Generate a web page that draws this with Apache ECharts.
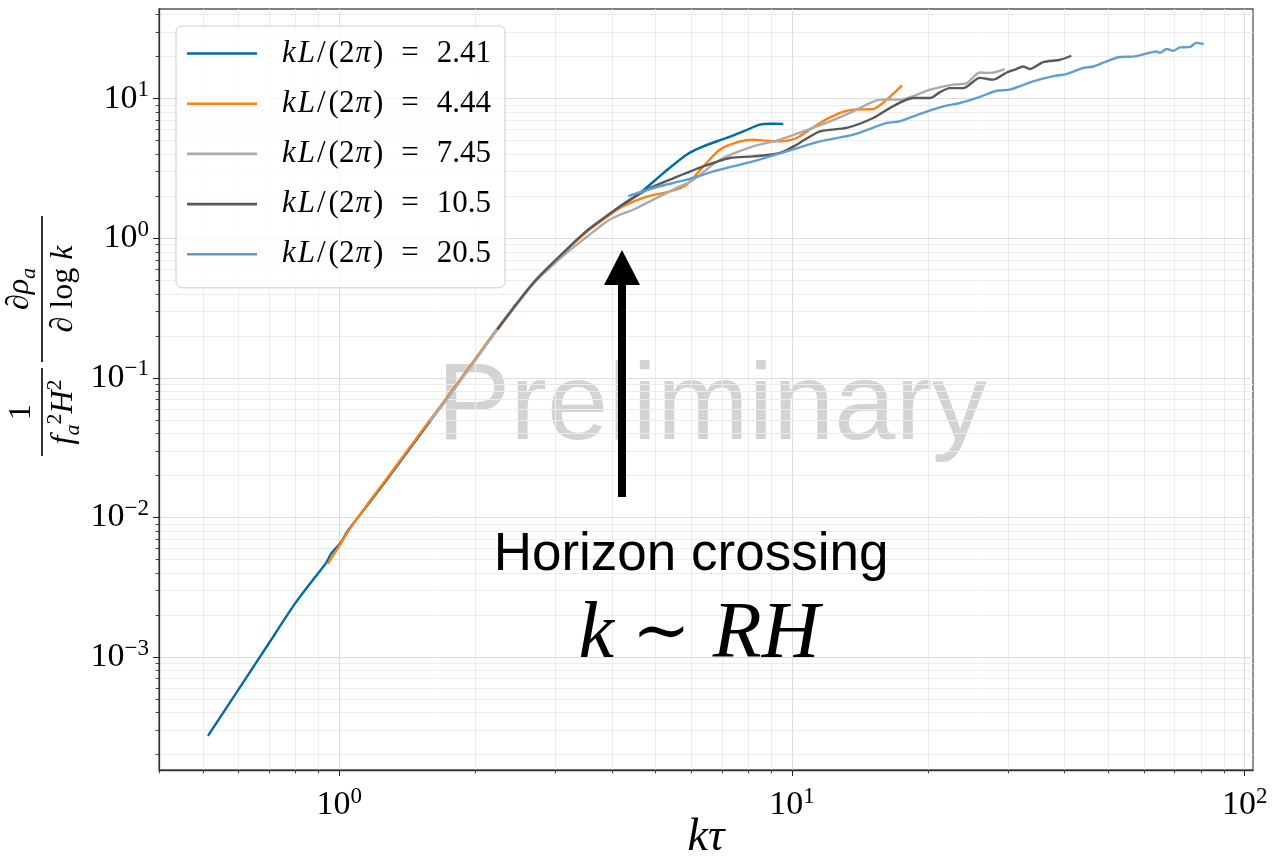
<!DOCTYPE html>
<html><head><meta charset="utf-8">
<script src="https://cdn.jsdelivr.net/npm/echarts@6/dist/echarts.min.js"></script>
<style>html,body{margin:0;padding:0;background:#fff}#c{width:1272px;height:860px}</style>
</head><body><div id="c"></div>
<script>
// ---- data ----
const kLValues = ['2.41', '4.44', '7.45', '10.5', '20.5'];
const seriesColors = ['#006BA4', '#FF800E', '#ABABAB', '#595959', '#5F9ED1'];

const x241 = [0.513,0.6,0.7,0.8,0.9,0.935,0.96,1.005,1.048,1.15,1.274,1.5,1.699,2.0,2.229,2.685,3.127,3.52,3.9,4.17,4.62,5.2,5.85,6.37,7.17,7.81,8.49,9.0,9.57];
const y241 = [2.72e-4,5.88e-4,1.26e-3,2.43e-3,4.01e-3,4.7e-3,5.5e-3,6.53e-3,8.13e-3,0.012,0.0186,0.0381,0.0659,0.136,0.221,0.477,0.783,1.119,1.433,1.69,2.11,2.93,3.97,4.55,5.23,5.83,6.51,6.62,6.6];

const x444 = [0.944,1.005,1.048,1.15,1.274,1.5,1.699,2.0,2.229,2.685,3.127,3.52,3.9,4.17,4.5,4.78,5.38,5.85,6.37,6.93,7.68,8.21,8.8,9.41,10.24,11.53,12.76,13.66,15.12,16.2,17.5];
const y444 = [4.64e-3,6.4e-3,8.0e-3,0.0122,0.019,0.039,0.067,0.137,0.222,0.48,0.78,1.11,1.42,1.646,1.85,1.99,2.17,2.42,3.27,4.31,4.94,5.08,5.0,4.94,5.23,6.70,7.90,8.34,8.44,9.84,12.45];

const x745 = [1.586,1.699,2.0,2.229,2.685,3.127,3.52,3.9,4.17,4.46,4.94,5.5,6.06,6.93,8.21,9.41,10.6,12.13,13.66,15.7,17.3,20.2,22.7,24.3,26.0,27.4,29.5];
const y745 = [0.049,0.065,0.134,0.218,0.47,0.75,1.02,1.32,1.474,1.60,1.89,2.25,2.63,3.65,4.55,5.08,5.83,6.88,8.11,9.84,9.84,11.6,12.6,12.9,15.4,15.3,16.3];

const x105 = [2.235,2.685,3.127,3.52,3.9,4.17,4.78,5.38,6.37,7.30,8.21,9.41,10.24,11.53,13.2,15.12,16.7,18.5,20.2,21.2,22.3,23.9,26.0,27.8,29.8,31.3,32.4,33.5,35.9,39.1,41.4];
const y105 = [0.222,0.48,0.79,1.13,1.45,1.69,2.23,2.63,3.27,3.76,3.86,4.08,4.68,5.83,6.17,7.27,8.81,10.1,10.1,11.1,11.9,11.9,14.1,13.7,15.4,16.3,17.0,16.3,18.3,19.0,20.3];

const x205 = [4.35,4.94,5.85,6.93,8.21,9.73,11.53,13.66,16.2,17.3,19.0,21.6,23.5,26.0,28.3,30.3,34.1,37.8,40.4,44.0,46.3,49.5,53.0,56.7,60.6,63.8,65.0,67.2,69.5,71.9,75.6,78.2,81.2];
const y205 = [2.0,2.29,2.63,3.10,3.55,4.19,4.94,5.52,6.70,6.88,7.7,8.81,9.31,10.3,11.4,11.6,13.3,14.5,15.0,16.6,17.0,18.5,19.9,20.0,21.0,21.8,21.3,22.7,22.0,23.3,23.4,25.1,24.6];

const xMajorTicks = [1, 10, 100];
const xMinorTicks = [0.4,0.5,0.6,0.7,0.8,0.9,2,3,4,5,6,7,8,9,20,30,40,50,60,70,80,90];
const yMajorTicks = [0.001, 0.01, 0.1, 1, 10];
const yMinorTicks = [0.0002,0.0003,0.0004,0.0005,0.0006,0.0007,0.0008,0.0009,
  0.002,0.003,0.004,0.005,0.006,0.007,0.008,0.009,
  0.02,0.03,0.04,0.05,0.06,0.07,0.08,0.09,
  0.2,0.3,0.4,0.5,0.6,0.7,0.8,0.9,
  2,3,4,5,6,7,8,9,20,30,40];

const xRange = [0.4, 104.3];
const yRange = [1.55e-4, 43.9];

// ---- chart ----
const allX = [x241, x444, x745, x105, x205];
const allY = [y241, y444, y745, y105, y205];
const SERIF = '"Liberation Serif", "DejaVu Serif", serif';
const SANS = '"Liberation Sans", Arial, sans-serif';

function powLabel(v) {
  const e = Math.round(Math.log10(v));
  return '{b|10}{s|' + (e < 0 ? '\u2212' + (-e) : e) + '}';
}
const tickRich = {
  b: { fontFamily: SERIF, fontSize: 34, lineHeight: 40, color: '#000' },
  s: { fontFamily: SERIF, fontSize: 23, lineHeight: 23, verticalAlign: 'top', color: '#000' }
};

const chart = echarts.init(document.getElementById('c'), null, { renderer: 'canvas' });

const series = kLValues.map((k, i) => ({
  type: 'line',
  name: 'kL/(2π) = ' + k,
  xAxisIndex: 0, yAxisIndex: 0,
  data: allX[i].map((x, j) => [x, allY[i][j]]),
  showSymbol: false, symbol: 'none', smooth: 0.25,
  lineStyle: { color: seriesColors[i], width: 2.4 },
  itemStyle: { color: seriesColors[i] },
  emphasis: { disabled: true },
  z: 3 + i
}));

const majorAxisCommon = {
  type: 'log', logBase: 10,
  axisLine: { show: true, onZero: false, lineStyle: { color: '#333', width: 1.3 } },
  splitLine: { show: true, lineStyle: { color: '#dcdcdc', width: 1 } },
  minorTick: { show: false }, minorSplitLine: { show: false }
};
const minorAxisCommon = {
  type: 'log', logBase: 10,
  axisLine: { show: false },
  axisLabel: { show: false },
  splitLine: { show: true, lineStyle: { color: '#ececec', width: 1 } },
  minorTick: { show: false }, minorSplitLine: { show: false }
};

const option = {
  backgroundColor: '#ffffff',
  animation: false,
  grid: { left: 159, top: 9, width: 1094, height: 761, show: true, borderColor: '#555', borderWidth: 1.3,
          backgroundColor: 'transparent', containLabel: false, outerBoundsMode: 'none' },
  xAxis: [
    Object.assign({}, majorAxisCommon, {
      min: xRange[0], max: xRange[1], position: 'bottom', z: 2,
      axisTick: { show: true, length: 6, customValues: xMajorTicks, lineStyle: { color: '#222', width: 1 } },
      axisLabel: { show: true, customValues: xMajorTicks, margin: 15, formatter: powLabel, rich: tickRich },
      name: '{i|kτ}', nameLocation: 'middle', nameGap: 45, nameMoveOverlap: false,
      nameTextStyle: { rich: { i: { fontFamily: SERIF, fontStyle: 'italic', fontSize: 46, lineHeight: 46, color: '#000' } } }
    }),
    Object.assign({}, minorAxisCommon, {
      min: xRange[0], max: xRange[1], position: 'bottom', z: 1,
      axisTick: { show: true, length: 3.5, customValues: xMinorTicks, lineStyle: { color: '#222', width: 0.8 } }
    })
  ],
  yAxis: [
    Object.assign({}, majorAxisCommon, {
      min: yRange[0], max: yRange[1], position: 'left', z: 2,
      axisTick: { show: true, length: 6, customValues: yMajorTicks, lineStyle: { color: '#222', width: 1 } },
      axisLabel: { show: true, customValues: yMajorTicks, margin: 10, formatter: powLabel, rich: tickRich }
    }),
    Object.assign({}, minorAxisCommon, {
      min: yRange[0], max: yRange[1], position: 'left', z: 1,
      axisTick: { show: true, length: 3.5, customValues: yMinorTicks, lineStyle: { color: '#222', width: 0.8 } }
    })
  ],
  legend: {
    show: true, orient: 'vertical', left: 176, top: 26,
    icon: 'rect', itemWidth: 70, itemHeight: 2.6, itemGap: 19.2,
    padding: [12, 14, 18, 11],
    backgroundColor: 'rgba(255,255,255,0.8)', borderColor: '#cccccc', borderWidth: 1, borderRadius: 6,
    selectedMode: false,
    textStyle: {
      fontFamily: SERIF, fontSize: 31, color: '#000',
      rich: {
        i0: { fontFamily: SERIF, fontStyle: 'italic', fontSize: 31, lineHeight: 34, padding: [0, 2, 0, 20] },
        iL: { fontFamily: SERIF, fontStyle: 'italic', fontSize: 31, lineHeight: 34, padding: [0, 1, 0, 0] },
        sl: { fontFamily: SERIF, fontSize: 31, lineHeight: 34, padding: [0, 3, 0, 1] },
        i: { fontFamily: SERIF, fontStyle: 'italic', fontSize: 31, lineHeight: 34, padding: [0, 2, 0, 1] },
        r: { fontFamily: SERIF, fontSize: 31, lineHeight: 34 },
        e: { fontFamily: SERIF, fontSize: 31, lineHeight: 34, padding: [0, 18, 0, 18] }
      }
    },
    formatter: function (name) {
      const v = name.split('= ')[1];
      return '{i0|k}{iL|L}{sl|/}{r|(2}{i|π}{r|)}{e|=}{r|' + v + '}';
    },
    data: kLValues.map(k => 'kL/(2π) = ' + k)
  },
  graphic: [
    { type: 'text', left: 437, top: 354, z: 1, silent: true,
      style: { text: 'Preliminary', font: '110px ' + SANS, fill: 'rgba(128,128,128,0.35)' } },
    { type: 'rect', z: 100, silent: true, shape: { x: 618, y: 283, width: 8, height: 214 }, style: { fill: '#000' } },
    { type: 'polygon', z: 100, silent: true, shape: { points: [[604, 285], [640, 285], [622, 250]] }, style: { fill: '#000' } },
    { type: 'text', z: 100, silent: true, x: 691, y: 555,
      style: { text: 'Horizon crossing', font: '53px ' + SANS, fill: '#000', textAlign: 'center', textVerticalAlign: 'middle' } },
    { type: 'text', z: 100, silent: true, x: 699, y: 636,
      style: { text: '{i|k}{r|∼}{i|RH}', textAlign: 'center', textVerticalAlign: 'middle',
        rich: { i: { fontFamily: SERIF, fontStyle: 'italic', fontSize: 80, fill: '#000' },
                r: { fontFamily: SERIF, fontSize: 70, fill: '#000', padding: [0, 22, 0, 18] } } } },
    // y-axis label: 1/(f_a^2 H^2) * dρ_a / d log k, rotated
    { type: 'group', x: 42, y: 456, rotation: Math.PI / 2, z: 100, silent: true,
      children: [
        { type: 'rect', shape: { x: 0, y: -0.8, width: 88, height: 1.6 }, style: { fill: '#000' } },
        { type: 'text', x: 44, y: -2, style: { text: '{r|1}', textAlign: 'center', textVerticalAlign: 'bottom',
            rich: { r: { fontFamily: SERIF, fontSize: 32, lineHeight: 36, fill: '#000' } } } },
        { type: 'text', x: 44, y: 2, style: { text: '{i|f}{sb|a}{sp|2}{i|H}{sp|2}', textAlign: 'center', textVerticalAlign: 'top',
            rich: { i: { fontFamily: SERIF, fontStyle: 'italic', fontSize: 32, lineHeight: 40, fill: '#000' },
                    sb: { fontFamily: SERIF, fontStyle: 'italic', fontSize: 22, lineHeight: 22, verticalAlign: 'bottom', fill: '#000' },
                    sp: { fontFamily: SERIF, fontSize: 22, lineHeight: 22, verticalAlign: 'top', fill: '#000' } } } },
        { type: 'rect', shape: { x: 94, y: -0.8, width: 146, height: 1.6 }, style: { fill: '#000' } },
        { type: 'text', x: 167, y: -2, style: { text: '{r|∂}{i|ρ}{sb|a}', textAlign: 'center', textVerticalAlign: 'bottom',
            rich: { r: { fontFamily: SERIF, fontSize: 32, lineHeight: 40, fill: '#000' },
                    i: { fontFamily: SERIF, fontStyle: 'italic', fontSize: 32, lineHeight: 40, fill: '#000' },
                    sb: { fontFamily: SERIF, fontStyle: 'italic', fontSize: 22, lineHeight: 22, verticalAlign: 'bottom', fill: '#000' } } } },
        { type: 'text', x: 167, y: 2, style: { text: '{r|∂ log }{i|k}', textAlign: 'center', textVerticalAlign: 'top',
            rich: { r: { fontFamily: SERIF, fontSize: 32, lineHeight: 40, fill: '#000' },
                    i: { fontFamily: SERIF, fontStyle: 'italic', fontSize: 32, lineHeight: 40, fill: '#000' } } } }
      ] }
  ],
  series: series
};
chart.setOption(option);
</script>
</body></html>
